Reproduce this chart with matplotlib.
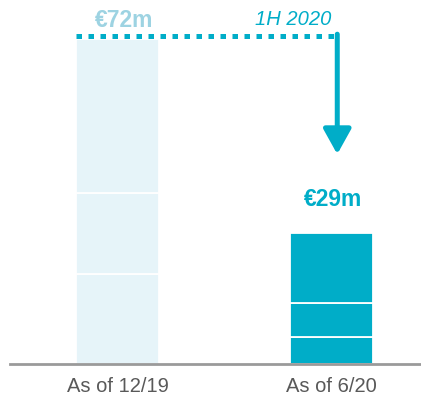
import matplotlib.pyplot as plt

plt.rcParams['font.family'] = ['Liberation Sans', 'DejaVu Sans']

periods = ['As of 12/19', 'As of 6/20']
totals = [72, 29]
# stacked segments, bottom to top
segments_1219 = [20, 18, 34]
segments_620 = [6, 7.5, 15.5]
total_labels = ['€72m', '€29m']
period_note = '1H 2020'

light = '#e6f4f9'
teal = '#00adc8'
pale_text = '#9dd3e2'
grey = '#595959'

fig = plt.figure(figsize=(4.21, 4.06), dpi=100)
ax = fig.add_axes([10 / 421, 1 - 365 / 406, 411 / 421, 365 / 406])

width = 0.39
xs = [0, 1]
for x, segs, col in zip(xs, [segments_1219, segments_620], [light, teal]):
    bottom = 0
    for s in segs:
        ax.bar(x, s, width, bottom=bottom, color=col, edgecolor='white', linewidth=1.3, zorder=2)
        bottom += s

ax.set_xlim(-0.504, 1.42)
ax.set_ylim(0, 80.9)
for side in ['top', 'right', 'left']:
    ax.spines[side].set_visible(False)
ax.spines['bottom'].set_color('#9a9a9a')
ax.spines['bottom'].set_linewidth(2)
ax.set_yticks([])
ax.set_xticks(xs)
ax.set_xticklabels(periods, fontsize=14.5, color=grey)
ax.tick_params(axis='x', length=0, pad=9)

# value labels
ax.text(xs[0] + 0.03, 76.4, total_labels[0], ha='center', va='center',
        fontsize=16.5, fontweight='bold', color=pale_text)
ax.annotate(total_labels[1], xy=(xs[1], totals[1]), xytext=(1, 25), textcoords='offset points',
            ha='center', va='center', fontsize=16.5, fontweight='bold', color=teal)

# dotted connector and arrow down to the second bar
arrow_x = 1.028
ax.plot([-width / 2, arrow_x], [totals[0] + 0.6, totals[0] + 0.6], color=teal, lw=3.6,
        linestyle=(0, (1.1, 1.3)), dash_capstyle='butt', zorder=3)
ax.annotate('', xy=(arrow_x, 46.5), xytext=(arrow_x, totals[0] + 1.1),
            arrowprops=dict(arrowstyle='-|>,head_length=0.45,head_width=0.25', lw=3.6,
                            color=teal, mutation_scale=34, shrinkA=0, shrinkB=0))
ax.text(0.822, 76.5, period_note, ha='center', va='center', fontsize=14.5,
        style='italic', color=teal)

fig.savefig('out.png', dpi=100)
